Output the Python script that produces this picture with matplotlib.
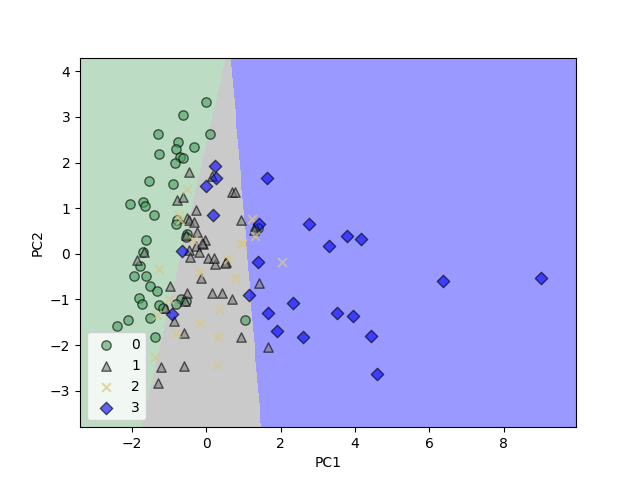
import matplotlib
matplotlib.use("Agg")
import matplotlib.pyplot as plt
import numpy as np
from matplotlib.colors import ListedColormap

pc1_0 = [0, -0.62, -1.3, 0.1, -0.32, -0.76, -0.81, -1.27, -0.70, -0.62, -0.84, -1.54, -0.89, -2.05, -1.7,
         -1.65, -1.4, -0.78, -0.81, -0.51, -0.54, -1.62, -1.7, -1.95, -1.62, -1.78, -1.51, -1.32, -1.81,
         -1.73, -1.27, -1.16, -0.68, -0.81, -0.54, -1.51, -2.1, -2.4, -1.38, 1.05, 1.38]
pc2_0 = [3.32, 3.05, 2.62, 2.62, 2.35, 2.46, 2.3, 2.18, 2.13, 2.1, 1.98, 1.6, 1.54, 1.1, 1.14,
         1.05, 0.84, 0.75, 0.66, 0.44, 0.37, 0.31, 0.04, -0.48, -0.48, -0.26, -0.7, -0.81, -0.97,
         -1.1, -1.12, -1.19, -0.99, -1.1, -1.03, -1.41, -1.45, -1.58, -1.82, -1.45, 0.57]

pc1_1 = [-0.46, 0.16, 0.68, 0.76, -0.78, -0.62, 0.92, 1.32, 1.27, -0.27, -0.51, -0.46, -0.32, -0.24,
         -0.03, -0.27, -0.46, 0.05, 0.24, 0.54, -1.68, -1.86, -0.43, -0.19, -0.08, 0.22, 0.51, -0.14,
         -0.97, -0.51, -0.57, 0.14, 0.41, 0.68, 1.41, -1.11, -0.86, -0.59, 0.92, 1.65, -0.59, -1.22,
         -1.3, -0.54, -0.11]
pc2_1 = [1.8, 1.71, 1.36, 1.36, 1.19, 1.25, 0.75, 0.62, 0.53, 0.95, 0.79, 0.73, 0.7, 0.48,
         0.31, 0.18, 0.09, -0.09, -0.22, -0.18, 0.04, -0.13, -0.07, 0.04, 0.22, -0.09, -0.2, -0.53,
         -0.7, -0.86, -1.03, -0.86, -0.86, -0.99, -0.64, -1.19, -1.47, -1.74, -1.82, -2.04, -2.46, -2.48,
         -2.83, 0.42, 0.24]

pc1_2 = [-0.51, -0.73, -0.7, 1.24, 1.3, 0.95, -0.35, -1.27, -0.19, 0.76, 0.59, 0.95, -1.0, 0.35,
         -0.16, -0.81, 0.32, 0.3, -1.38, -1.32, 2.05]
pc2_2 = [1.41, 0.84, 0.75, 0.77, 0.4, 0.24, 0.31, -0.33, -0.4, -0.53, -0.11, 0.22, -0.99, -1.21,
         -1.52, -1.74, -1.82, -2.44, -2.26, -1.34, -0.18]

pc1_3 = [0.24, 0.27, 0, 1.62, 0.19, 1.41, 2.76, 3.3, 3.78, 4.16, 1.38, -0.65, 1.16, 1.65, 2.32,
         1.89, 2.6, 3.51, 3.95, 4.43, 4.59, 6.38, 9.0, -0.92]
pc2_3 = [1.93, 1.67, 1.49, 1.67, 0.86, 0.66, 0.66, 0.18, 0.4, 0.33, -0.18, 0.07, -0.9, -1.3, -1.08,
         -1.69, -1.82, -1.3, -1.36, -1.8, -2.64, -0.59, -0.53, -1.32]

# decision boundaries as lines through (x at y=-3.8, x at y=4.3)
bound_01 = (-1.73, 0.54)
bound_13 = (1.49, 0.68)

xlim = (-3.4, 9.95)
ylim = (-3.8, 4.3)

xx, yy = np.meshgrid(np.linspace(*xlim, 600), np.linspace(*ylim, 400))
t = (yy - ylim[0]) / (ylim[1] - ylim[0])
b01 = bound_01[0] + t * (bound_01[1] - bound_01[0])
b13 = bound_13[0] + t * (bound_13[1] - bound_13[0])
zz = np.where(xx < b01, 0, np.where(xx < b13, 1, 2))

fig, ax = plt.subplots(figsize=(6.4, 4.8))
ax.contourf(xx, yy, zz, levels=[-0.5, 0.5, 1.5, 2.5],
            cmap=ListedColormap(["#bcdcc4", "#cacaca", "#9999ff"]))

ax.scatter(pc1_0, pc2_0, c="#4aa060", alpha=0.6, marker="o", edgecolor="black", s=45, label="0")
ax.scatter(pc1_1, pc2_1, c="gray", alpha=0.6, marker="^", edgecolor="black", s=45, label="1")
ax.scatter(pc1_2, pc2_2, c="#d8c888", alpha=0.7, marker="x", s=40, label="2")
ax.scatter(pc1_3, pc2_3, c="blue", alpha=0.6, marker="D", edgecolor="black", s=40, label="3")

ax.set_xlim(*xlim)
ax.set_ylim(*ylim)
ax.set_xlabel("PC1")
ax.set_ylabel("PC2")
ax.legend(loc="lower left")
fig.savefig("out.png", dpi=100)
